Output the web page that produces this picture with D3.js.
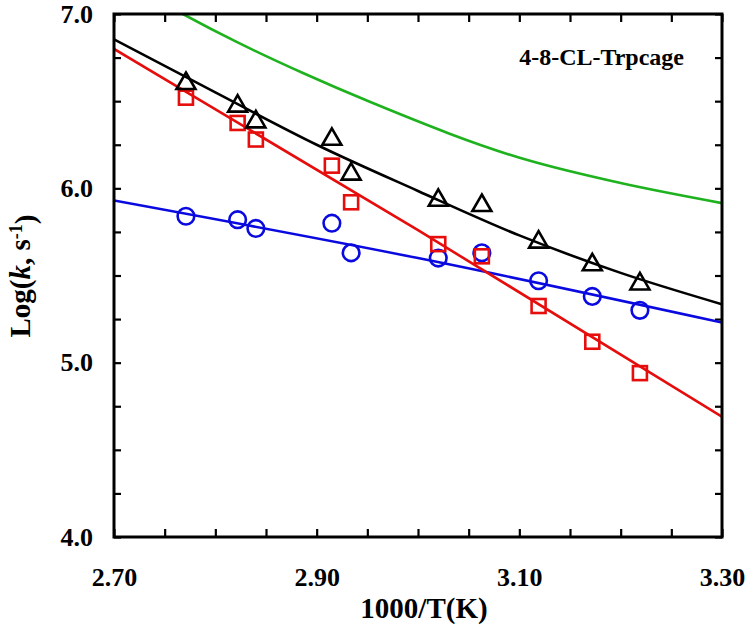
<!DOCTYPE html>
<html>
<head>
<meta charset="utf-8">
<script src="https://cdn.jsdelivr.net/npm/d3@7"></script>
<style>
  html, body { margin: 0; padding: 0; background: #fff; }
  svg { display: block; }
  text { font-family: "Liberation Serif", "Times New Roman", serif; font-weight: bold; fill: #000; }
</style>
</head>
<body>
<svg id="chart" width="750" height="640"></svg>
<script>
// ---- data ----
const invT = [2.771, 2.822, 2.840, 2.915, 2.934, 3.020, 3.063, 3.119, 3.172, 3.219];
const logkTriangle = [6.61, 6.48, 6.39, 6.29, 6.09, 5.94, 5.91, 5.70, 5.57, 5.46];
const logkSquare   = [6.52, 6.375, 6.28, 6.13, 5.92, 5.68, 5.61, 5.325, 5.12, 4.94];
const logkCircle   = [5.84, 5.82, 5.77, 5.80, 5.63, 5.60, 5.63, 5.47, 5.38, 5.30];

// fitted curves
const fitBlackX = [2.70, 2.80, 2.90, 3.00, 3.10, 3.20, 3.30];
const fitBlackY = [6.855, 6.55, 6.25, 5.985, 5.73, 5.515, 5.335];
const fitRedX = [2.70, 3.00, 3.30];
const fitRedY = [6.80, 5.76, 4.69];
const fitBlueX = [2.70, 3.00, 3.30];
const fitBlueY = [5.93, 5.60, 5.23];
const fitGreenX = [2.74, 2.768, 2.821, 2.887, 2.953, 3.108, 3.20, 3.30];
const fitGreenY = [7.09, 7.00, 6.84, 6.66, 6.495, 6.162, 6.03, 5.915];

const xTickLabels = ["2.70", "2.90", "3.10", "3.30"];
const yTickLabels = ["4.0", "5.0", "6.0", "7.0"];
const annotation = "4-8-CL-Trpcage";

// ---- layout ----
const svg = d3.select("#chart");
const L = 114, T = 14, R = 722, B = 537;
const x = d3.scaleLinear().domain([2.70, 3.30]).range([L, R]);
const y = d3.scaleLinear().domain([4.0, 7.0]).range([B, T]);

const xTicks = d3.range(0, 13).map(i => +(2.70 + i * 0.05).toFixed(2));
const yTicks = d3.range(0, 13).map(i => +(4.0 + i * 0.25).toFixed(2));
const xLabelSet = new Set(xTickLabels.map(Number));
const yLabelSet = new Set(yTickLabels.map(Number));

// clip
svg.append("defs").append("clipPath").attr("id", "clip")
  .append("rect").attr("x", L).attr("y", T).attr("width", R - L).attr("height", B - T);

// axes
function styleAxis(g) {
  g.select(".domain").remove();
  g.selectAll(".tick line").attr("stroke", "#000").attr("stroke-width", 2.2);
  g.selectAll(".tick text").style("font-size", "26px").attr("fill", "#000");
}
svg.append("g").attr("transform", `translate(0,${B})`)
  .call(d3.axisBottom(x).tickValues(xTicks).tickSizeInner(-8).tickSizeOuter(0).tickPadding(31)
    .tickFormat(d => xLabelSet.has(+d.toFixed(2)) ? d3.format(".2f")(d) : ""))
  .call(styleAxis);
svg.append("g").attr("transform", `translate(0,${T})`)
  .call(d3.axisTop(x).tickValues(xTicks).tickSizeInner(-8).tickSizeOuter(0).tickFormat(""))
  .call(styleAxis);
svg.append("g").attr("transform", `translate(${L},0)`)
  .call(d3.axisLeft(y).tickValues(yTicks).tickSizeInner(-7).tickSizeOuter(0).tickPadding(21)
    .tickFormat(d => yLabelSet.has(+d.toFixed(2)) ? d3.format(".1f")(d) : ""))
  .call(styleAxis);
svg.append("g").attr("transform", `translate(${R},0)`)
  .call(d3.axisRight(y).tickValues(yTicks).tickSizeInner(-7).tickSizeOuter(0).tickFormat(""))
  .call(styleAxis);

// lines
const plot = svg.append("g").attr("clip-path", "url(#clip)");
const line = d3.line().x(d => x(d[0])).y(d => y(d[1])).curve(d3.curveMonotoneX);
const fits = [
  { xs: fitGreenX, ys: fitGreenY, color: "#1fb21f" },
  { xs: fitBlueX, ys: fitBlueY, color: "#0a0ae0" },
  { xs: fitRedX, ys: fitRedY, color: "#e60d0d" },
  { xs: fitBlackX, ys: fitBlackY, color: "#000000" }
];
fits.forEach(f => {
  plot.append("path")
    .datum(f.xs.map((v, i) => [v, f.ys[i]]))
    .attr("d", line).attr("fill", "none")
    .attr("stroke", f.color).attr("stroke-width", 2.6);
});

// markers
const circ = invT.map((v, i) => [v, logkCircle[i]]);
const sq = invT.map((v, i) => [v, logkSquare[i]]);
const tri = invT.map((v, i) => [v, logkTriangle[i]]);

svg.append("g").selectAll("circle").data(circ).join("circle")
  .attr("cx", d => x(d[0])).attr("cy", d => y(d[1])).attr("r", 8.3)
  .attr("fill", "none").attr("stroke", "#0a0ae0").attr("stroke-width", 2.6);
svg.append("g").selectAll("rect").data(sq).join("rect")
  .attr("x", d => x(d[0]) - 7).attr("y", d => y(d[1]) - 7).attr("width", 14).attr("height", 14)
  .attr("fill", "none").attr("stroke", "#e60d0d").attr("stroke-width", 2.6);
svg.append("g").selectAll("path").data(tri).join("path")
  .attr("d", d => {
    const cx = x(d[0]), cy = y(d[1]);
    return `M${cx},${cy - 9.5}L${cx + 9.5},${cy + 7}L${cx - 9.5},${cy + 7}Z`;
  })
  .attr("fill", "none").attr("stroke", "#000").attr("stroke-width", 2.6).attr("stroke-linejoin", "miter");

// frame
svg.append("rect").attr("x", L).attr("y", T).attr("width", R - L).attr("height", B - T)
  .attr("fill", "none").attr("stroke", "#000").attr("stroke-width", 3);

// annotation
svg.append("text").attr("x", 684).attr("y", 65).attr("text-anchor", "end")
  .style("font-size", "24px").text(annotation);

// axis titles
svg.append("text").attr("x", 424).attr("y", 618).attr("text-anchor", "middle")
  .style("font-size", "29px").text("1000/T(K)");

const yt = svg.append("text").attr("transform", "translate(30,276) rotate(-90)")
  .attr("text-anchor", "middle").style("font-size", "29px");
yt.append("tspan").text("Log(");
yt.append("tspan").style("font-style", "italic").text("k");
yt.append("tspan").text(", s");
yt.append("tspan").attr("dy", "-0.45em").style("font-size", "18px").text("-1");
yt.append("tspan").attr("dy", "0.45em").text(")");
</script>
</body>
</html>
